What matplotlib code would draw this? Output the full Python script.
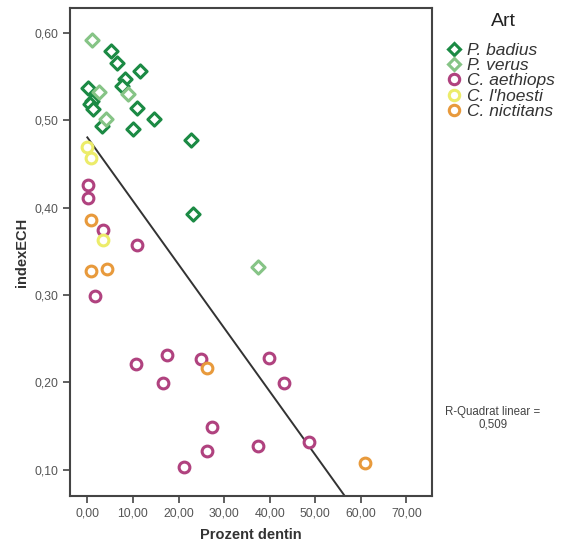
import numpy as np
import matplotlib
matplotlib.use('Agg')
import matplotlib.pyplot as plt
from matplotlib.lines import Line2D

plt.rcParams['font.family'] = ['Liberation Sans', 'DejaVu Sans']

# data (Prozent dentin, indexECH)
badius_x = [5.3, 6.6, 11.6, 8.2, 7.5, 0.2, 1.0, 0.6, 1.3, 11.0, 14.6, 3.2, 10.0, 22.7, 23.2]
badius_y = [0.579, 0.566, 0.556, 0.547, 0.539, 0.537, 0.522, 0.519, 0.513, 0.514, 0.501, 0.493, 0.490, 0.478, 0.393]
verus_x = [1.0, 2.5, 9.0, 4.1, 37.5]
verus_y = [0.592, 0.532, 0.530, 0.501, 0.332]
aethiops_x = [0.2, 0.2, 3.5, 11.0, 1.7, 10.7, 17.5, 24.9, 39.8, 16.5, 43.1, 27.4, 26.2, 37.4, 48.7, 21.2]
aethiops_y = [0.426, 0.411, 0.375, 0.357, 0.299, 0.221, 0.231, 0.227, 0.228, 0.199, 0.199, 0.149, 0.122, 0.127, 0.132, 0.103]
lhoesti_x = [0.0, 0.7, 3.5]
lhoesti_y = [0.469, 0.457, 0.363]
nictitans_x = [0.7, 0.7, 4.3, 26.3, 60.8]
nictitans_y = [0.386, 0.328, 0.330, 0.216, 0.108]

fit_intercept = 0.4805
fit_slope = -0.00727
r2_text = 'R-Quadrat linear =\n0,509'

xticks = [0, 10, 20, 30, 40, 50, 60, 70]
yticks = [0.1, 0.2, 0.3, 0.4, 0.5, 0.6]

c_badius = '#1b8a44'
c_verus = '#86c486'
c_aeth = '#b0427f'
c_lho = '#ecec6a'
c_nict = '#e89a3c'

fig = plt.figure(figsize=(5.71, 5.48), dpi=100)
ax = fig.add_axes([0.1226, 0.0949, 0.634, 0.8905])

ax.scatter(badius_x, badius_y, marker='D', s=45, facecolors='white', edgecolors=c_badius, linewidths=2.2, zorder=3)
ax.scatter(verus_x, verus_y, marker='D', s=45, facecolors='white', edgecolors=c_verus, linewidths=2.2, zorder=3)
ax.scatter(aethiops_x, aethiops_y, marker='o', s=60, facecolors='white', edgecolors=c_aeth, linewidths=2.2, zorder=3)
ax.scatter(lhoesti_x, lhoesti_y, marker='o', s=60, facecolors='white', edgecolors=c_lho, linewidths=2.2, zorder=3)
ax.scatter(nictitans_x, nictitans_y, marker='o', s=60, facecolors='white', edgecolors=c_nict, linewidths=2.2, zorder=3)

xs = np.array([0, 70])
ax.plot(xs, fit_intercept + fit_slope * xs, color='#333333', lw=1.4, zorder=2)

ax.set_xlim(-3.8, 75.6)
ax.set_ylim(0.070, 0.6286)
ax.set_xticks(xticks)
ax.set_yticks(yticks)
ax.set_xticklabels([f'{v:.2f}'.replace('.', ',') for v in xticks])
ax.set_yticklabels([f'{v:.2f}'.replace('.', ',') for v in yticks])
ax.tick_params(direction='out', length=5, width=1.2, color='#444444', labelsize=8.8, labelcolor='#555555')
for s in ax.spines.values():
    s.set_color('#444444')
    s.set_linewidth(1.5)

ax.set_xlabel('Prozent dentin', fontsize=10.5, fontweight='bold', color='#333333', labelpad=6)
ax.set_ylabel('indexECH', fontsize=10.5, fontweight='bold', color='#333333', labelpad=4)

fig.text(0.863, 0.236, r2_text, fontsize=8.3, color='#444444', ha='center', va='center', linespacing=1.05)

handles = [
    Line2D([], [], marker='D', ls='', markersize=6, markerfacecolor='white', markeredgecolor=c_badius, markeredgewidth=2.2),
    Line2D([], [], marker='D', ls='', markersize=6, markerfacecolor='white', markeredgecolor=c_verus, markeredgewidth=2.2),
    Line2D([], [], marker='o', ls='', markersize=7.5, markerfacecolor='white', markeredgecolor=c_aeth, markeredgewidth=2.2),
    Line2D([], [], marker='o', ls='', markersize=7.5, markerfacecolor='white', markeredgecolor=c_lho, markeredgewidth=2.2),
    Line2D([], [], marker='o', ls='', markersize=7.5, markerfacecolor='white', markeredgecolor=c_nict, markeredgewidth=2.2),
]
labels = ['P. badius', 'P. verus', 'C. aethiops', "C. l'hoesti", 'C. nictitans']
leg = fig.legend(handles, labels, loc='upper left', bbox_to_anchor=(0.755, 0.95), frameon=False,
                 handlelength=0.8, handletextpad=0.35, labelspacing=0.0,
                 prop={'style': 'italic', 'size': 12.5})
for t in leg.get_texts():
    t.set_color('#333333')
fig.text(0.881, 0.96, 'Art', fontsize=14, color='#222222', ha='center', va='center')

fig.savefig('out.png', dpi=100)
